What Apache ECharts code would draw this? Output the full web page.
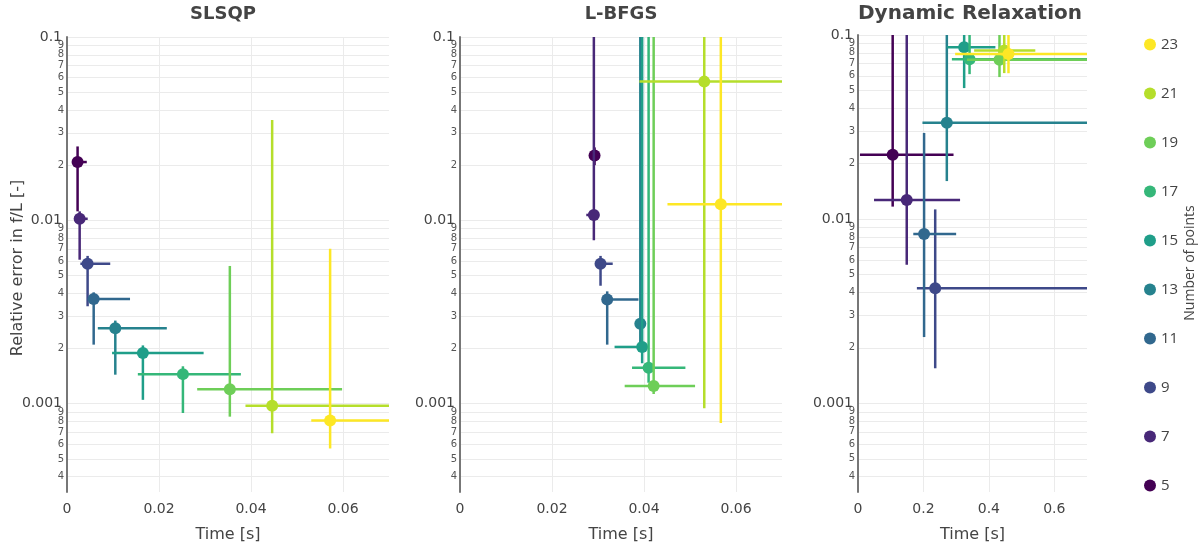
<!DOCTYPE html>
<html>
<head>
<meta charset="utf-8">
<script src="https://cdn.jsdelivr.net/npm/echarts@6/dist/echarts.min.js"></script>
<style>html,body{margin:0;padding:0;background:#fff}#c{width:1202px;height:548px}</style>
</head>
<body>
<div id="c"></div>
<script>
// ---- data ----
const pointCounts = ['5','7','9','11','13','15','17','19','21','23'];
const colors = ['#440154','#482878','#3e4989','#31688e','#26828e','#1f9e89','#35b779','#6ece58','#b5de2b','#fde725'];
const panelTitles = ['SLSQP','L-BFGS','Dynamic Relaxation'];

// SLSQP
const slsqpTime     = [0.0023, 0.00275, 0.00448, 0.0058, 0.0105, 0.0165, 0.0252, 0.0354, 0.0446, 0.0572];
const slsqpTimeLow  = [0.0012, 0.0018, 0.0029, 0.0045, 0.0067, 0.0098, 0.0154, 0.0283, 0.0388, 0.0531];
const slsqpTimeHigh = [0.0043, 0.0045, 0.0094, 0.0137, 0.0217, 0.0297, 0.0378, 0.0598, 0.085, 0.085];
const slsqpErr      = [0.0208, 0.0102, 0.0058, 0.00372, 0.00258, 0.00189, 0.00145, 0.0012, 0.000976, 0.00081];
const slsqpErrLow   = [0.0112, 0.0061, 0.0034, 0.0021, 0.00144, 0.00105, 0.00089, 0.00085, 0.00069, 0.00057];
const slsqpErrHigh  = [0.0253, 0.0112, 0.0064, 0.00405, 0.00284, 0.00208, 0.0016, 0.00564, 0.0353, 0.0070];

// L-BFGS
const lbfgsTime     = [0.02925, 0.0291, 0.03055, 0.032, 0.0392, 0.0396, 0.041, 0.0421, 0.0531, 0.0567];
const lbfgsTimeLow  = [0.0290, 0.02745, 0.0295, 0.0315, 0.0390, 0.0336, 0.0374, 0.0358, 0.0390, 0.0451];
const lbfgsTimeHigh = [0.0295, 0.0293, 0.0332, 0.0388, 0.0395, 0.0400, 0.0490, 0.0511, 0.085, 0.085];
const lbfgsErr      = [0.0226, 0.0107, 0.0058, 0.0037, 0.00273, 0.00204, 0.00157, 0.00125, 0.0571, 0.01225];
const lbfgsErrLow   = [0.0200, 0.0078, 0.0044, 0.0021, 0.0021, 0.00166, 0.0013, 0.00113, 0.000946, 0.000785];
const lbfgsErrHigh  = [0.025, 0.2, 0.0064, 0.0041, 0.2, 0.2, 0.2, 0.2, 0.2, 0.2];

// Dynamic Relaxation
const drTime     = [0.106, 0.149, 0.236, 0.202, 0.2715, 0.3245, 0.341, 0.4325, 0.447, 0.46];
const drTimeLow  = [0.006, 0.049, 0.18, 0.169, 0.197, 0.2715, 0.287, 0.333, 0.355, 0.297];
const drTimeHigh = [0.292, 0.312, 0.85, 0.30, 0.85, 0.42, 0.85, 0.85, 0.542, 0.85];
const drErr      = [0.0224, 0.0127, 0.00422, 0.0083, 0.0334, 0.0858, 0.0739, 0.0733, 0.0823, 0.0789];
const drErrLow   = [0.0117, 0.00566, 0.00155, 0.00229, 0.0161, 0.0515, 0.0613, 0.0591, 0.0621, 0.062];
const drErrHigh  = [0.2, 0.2, 0.0113, 0.0294, 0.2, 0.2, 0.2, 0.2, 0.2, 0.2];

const yTickValues = [0.0004,0.0005,0.0006,0.0007,0.0008,0.0009,0.001,0.002,0.003,0.004,0.005,0.006,0.007,0.008,0.009,0.01,0.02,0.03,0.04,0.05,0.06,0.07,0.08,0.09,0.0999999];
const yTopTick = [0.0999999];
const xTicksFast = [0, 0.02, 0.04, 0.06];
const xTicksDR = [0, 0.2, 0.4, 0.6];

// ---- chart ----
const panels = [
  {t: slsqpTime, tl: slsqpTimeLow, th: slsqpTimeHigh, e: slsqpErr, el: slsqpErrLow, eh: slsqpErrHigh},
  {t: lbfgsTime, tl: lbfgsTimeLow, th: lbfgsTimeHigh, e: lbfgsErr, el: lbfgsErrLow, eh: lbfgsErrHigh},
  {t: drTime, tl: drTimeLow, th: drTimeHigh, e: drErr, el: drErrLow, eh: drErrHigh}
];
const grids = [
  {left: 67, top: 37, width: 322, height: 461},
  {left: 460, top: 37, width: 322, height: 461},
  {left: 858, top: 35, width: 229, height: 461}
];
const FONT = '"DejaVu Sans", Verdana, sans-serif';

function yFmt(v) {
  const lg = Math.log10(v);
  if (Math.abs(lg - Math.round(lg)) < 1e-5) {
    return '{maj|' + (+v.toPrecision(1)).toString() + '}';
  }
  const d = Math.round(v / Math.pow(10, Math.floor(lg + 1e-9)));
  return '{min|' + d + '}';
}
// main axis: the top decade label is drawn by the companion axis
function yFmtMain(v) { return v > 0.095 ? '' : yFmt(v); }
const yRich = {maj: {fontSize: 14, color: '#444', fontFamily: FONT, padding: [0, 2, 0, 0]},
               min: {fontSize: 10, color: '#555', fontFamily: FONT, lineHeight: 10}};
const gridLine = {show: true, lineStyle: {color: '#ebebeb', width: 1}};

const xAxes = [], yAxes = [], yTopAxes = [], series = [];
grids.forEach((g, i) => {
  const isDR = i === 2;
  const xt = isDR ? xTicksDR : xTicksFast;
  xAxes.push({
    gridIndex: i, type: 'value', min: 0, max: isDR ? 0.7 : 0.07,
    name: 'Time [s]', nameLocation: 'middle', nameGap: 35,
    nameTextStyle: {fontSize: 16, color: '#444', fontFamily: FONT},
    axisLine: {show: false}, axisTick: {show: false, customValues: xt},
    axisLabel: {customValues: xt, fontSize: 14, color: '#444', fontFamily: FONT, margin: 10,
      formatter: v => (+v.toFixed(4)).toString()},
    splitLine: gridLine
  });
  yAxes.push({
    gridIndex: i, type: 'log', logBase: 10, min: 0.00033, max: 0.1,
    axisLine: {show: true, lineStyle: {color: '#777', width: 2}},
    axisTick: {show: false, customValues: yTickValues},
    axisLabel: {customValues: yTickValues, formatter: yFmtMain, margin: 3, color: '#444', fontFamily: FONT,
      hideOverlap: false, rich: yRich},
    splitLine: gridLine,
    minorTick: {show: false}, minorSplitLine: {show: false}
  });
  yTopAxes.push({
    gridIndex: i, type: 'log', logBase: 10, min: 0.00033, max: 0.1, position: 'left',
    axisLine: {show: false}, splitLine: {show: false},
    axisTick: {show: false, customValues: yTopTick},
    axisLabel: {customValues: yTopTick, formatter: yFmt, margin: 3, color: '#444', fontFamily: FONT,
      showMaxLabel: true, rich: yRich}
  });
  const p = panels[i];
  pointCounts.forEach((name, k) => {
    series.push({
      type: 'custom', name: name, xAxisIndex: i, yAxisIndex: i, clip: true,
      itemStyle: {color: colors[k]},
      encode: {x: 0, y: 1},
      data: [[p.t[k], p.e[k], p.tl[k], p.th[k], p.el[k], p.eh[k]]],
      renderItem: function (params, api) {
        const x = api.value(0), y = api.value(1);
        const c = api.coord([x, y]);
        const l = api.coord([api.value(2), y]);
        const r = api.coord([api.value(3), y]);
        const lo = api.coord([x, api.value(4)]);
        const hi = api.coord([x, api.value(5)]);
        const color = api.visual('color');
        return {type: 'group', children: [
          {type: 'line', shape: {x1: l[0], y1: c[1], x2: r[0], y2: c[1]}, style: {stroke: color, lineWidth: 2.5}},
          {type: 'line', shape: {x1: c[0], y1: lo[1], x2: c[0], y2: hi[1]}, style: {stroke: color, lineWidth: 2.5}},
          {type: 'circle', shape: {cx: c[0], cy: c[1], r: 6}, style: {fill: color}}
        ]};
      }
    });
  });
});

const chart = echarts.init(document.getElementById('c'), null, {renderer: 'canvas'});
chart.setOption({
  backgroundColor: '#fff',
  animation: false,
  title: panelTitles.map((t, i) => ({
    text: t, left: [223, 621, 970][i], top: i === 2 ? 4 : 5, textAlign: 'center', padding: 0,
    textStyle: {fontFamily: '"DejaVu Sans", Verdana, sans-serif', fontWeight: 'bold', fontSize: i === 2 ? 20 : 18, color: '#444'}
  })),
  grid: grids,
  xAxis: xAxes,
  yAxis: yAxes.concat(yTopAxes),
  legend: {
    orient: 'vertical', left: 1139, top: 32, itemGap: 34, itemWidth: 12, itemHeight: 12,
    icon: 'circle', data: pointCounts.slice().reverse(),
    textStyle: {fontSize: 15, color: '#444', fontFamily: '"Open Sans", sans-serif'}
  },
  graphic: [{
    type: 'text', x: 18, y: 268, rotation: Math.PI / 2,
    style: {text: 'Relative error in f/L [-]', fontSize: 16, fill: '#444', fontFamily: FONT, align: 'center', verticalAlign: 'middle'}
  }, {
    type: 'text', x: 1190, y: 263, rotation: Math.PI / 2,
    style: {text: 'Number of points', fontSize: 14, fill: '#444', fontFamily: '"Open Sans", sans-serif', align: 'center', verticalAlign: 'middle'}
  }],
  series: series
});
</script>
</body>
</html>
